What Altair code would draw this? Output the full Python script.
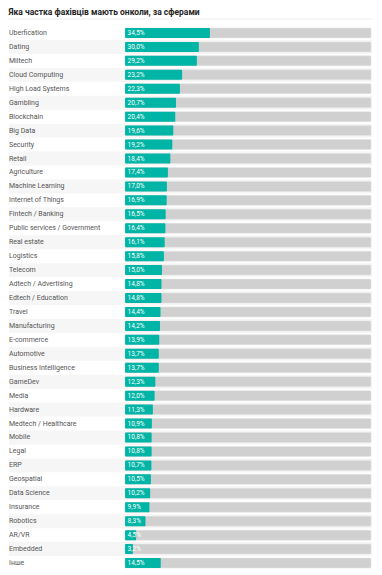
import altair as alt
import pandas as pd

categories = [
    "Uberfication", "Dating", "Miltech", "Cloud Computing", "High Load Systems",
    "Gambling", "Blockchain", "Big Data", "Security", "Retail", "Agriculture",
    "Machine Learning", "Internet of Things", "Fintech / Banking",
    "Public services / Government", "Real estate", "Logistics", "Telecom",
    "Adtech / Advertising", "Edtech / Education", "Travel", "Manufacturing",
    "E-commerce", "Automotive", "Business Intelligence", "GameDev", "Media",
    "Hardware", "Medtech / Healthcare", "Mobile", "Legal", "ERP", "Geospatial",
    "Data Science", "Insurance", "Robotics", "AR/VR", "Embedded", "Інше",
]
values = [
    34.5, 30.0, 29.2, 23.2, 22.3, 20.7, 20.4, 19.6, 19.2, 18.4, 17.4,
    17.0, 16.9, 16.5, 16.4, 16.1, 15.8, 15.0, 14.8, 14.8, 14.4, 14.2,
    13.9, 13.7, 13.7, 12.3, 12.0, 11.3, 10.9, 10.8, 10.8, 10.7, 10.5,
    10.2, 9.9, 8.3, 4.5, 3.2, 14.5,
]

LEFT = -47.2
RIGHT = 100.4

df = pd.DataFrame({"cat": categories, "val": values})
df["idx"] = range(len(df))
df["stripe"] = df["idx"] % 2 == 1
df["lab"] = df["val"].map(lambda v: f"{v:.1f}".replace(".", ",") + "%")
df["zero"] = 0.0
df["full"] = 100.0
df["left"] = LEFT
df["right"] = RIGHT

xs = alt.Scale(domain=[LEFT, RIGHT], nice=False, zero=False)
ys = alt.Scale(domain=categories, paddingInner=0, paddingOuter=0)
yenc = alt.Y("cat:N", sort=categories, scale=ys, axis=None)

base = alt.Chart(df)

stripes = base.transform_filter("datum.stripe").mark_rect(color="#f6f6f6").encode(
    x=alt.X("left:Q", scale=xs, axis=None), x2="right:Q", y=yenc
)
track = base.mark_bar(color="#d0d0d0", height=10, cornerRadius=1,
                      stroke="#e4e4e4", strokeWidth=0.6).encode(
    x=alt.X("zero:Q", scale=xs), x2="full:Q", y=yenc
)
bars = base.mark_bar(color="#00b5a5", height=10, cornerRadius=1).encode(
    x=alt.X("zero:Q", scale=xs), x2="val:Q", y=yenc
)
vlabels = base.mark_text(align="left", baseline="middle", dx=2.5, color="white",
                         font="Roboto", fontSize=6.5).encode(
    x=alt.X("zero:Q", scale=xs), y=yenc, text="lab:N"
)
clabels = base.mark_text(align="left", baseline="middle", dx=0, color="#555",
                         font="Roboto", fontSize=7).encode(
    x=alt.X("left:Q", scale=xs), y=yenc, text="cat:N"
)
sep = alt.Chart(pd.DataFrame({"a": [LEFT], "b": [RIGHT]})).mark_rule(
    color="#eeeeee", strokeWidth=1
).encode(x=alt.X("a:Q", scale=xs), x2="b:Q", y=alt.value(-7))

chart = alt.layer(stripes, track, bars, vlabels, clabels, sep).properties(
    width=363, height=544,
    padding={"left": 0, "top": 0, "right": 0, "bottom": 0},
    title=alt.TitleParams(
        "Яка частка фахівців мають онколи, за сферами",
        anchor="start", font="Roboto", fontSize=8.5, fontWeight="bold",
        color="#222", offset=2,
    ),
).configure_view(stroke=None)

chart.save("out.html", embed_options={"renderer": "svg", "actions": False})
